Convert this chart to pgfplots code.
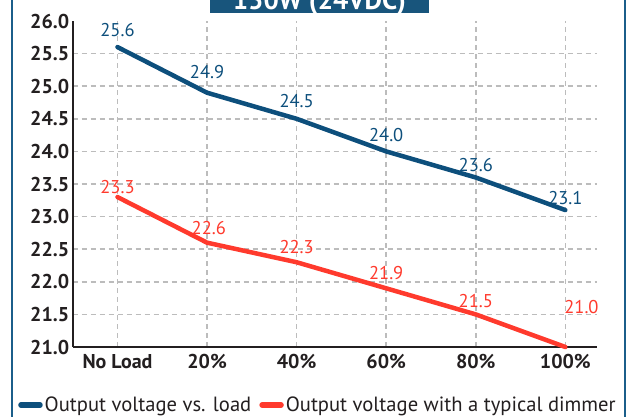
\documentclass[border=0pt]{standalone}
\usepackage{pgfplots}
\pgfplotsset{compat=1.18}
\usepackage{fontspec}
\setmainfont{PT Sans}
\definecolor{cblue}{HTML}{0D4F7C}
\definecolor{cred}{HTML}{FF3A2D}
\definecolor{cframe}{HTML}{1B5E8A}
\definecolor{cgrid}{HTML}{BCBCBC}
\definecolor{cax}{HTML}{231F20}
\begin{document}
\begin{tikzpicture}
\useasboundingbox (0bp,0bp) rectangle (631bp,417bp);
\clip (0bp,0bp) rectangle (631bp,417bp);
\begin{axis}[
  at={(72.7bp,70bp)}, anchor=south west,
  scale only axis, width=524bp, height=326bp,
  xmin=-0.5, xmax=5.35, ymin=21, ymax=26,
  clip=false,
  axis lines*=left,
  axis line style={cax, line width=2bp},
  major tick length=0pt,
  xtick={0,1,2,3,4,5},
  xticklabels={No Load,20\%,40\%,60\%,80\%,100\%},
  ytick={21,21.5,22,22.5,23,23.5,24,24.5,25,25.5},
  yticklabels={21.0,21.5,22.0,22.5,23.0,23.5,24.0,24.5,25.0,25.5},
  extra y ticks={26}, extra y tick labels={26.0},
  extra y tick style={grid=none},
  grid=major,
  major grid style={cgrid, line width=1.6bp, dash pattern=on 5bp off 4bp},
  tick label style={font=\fontsize{20bp}{22bp}\selectfont\bfseries, text=cax},
  yticklabel style={xshift=0bp},
  xticklabel style={yshift=-4bp},
  legend columns=2,
  legend style={at={(-0.11,-0.178)}, anchor=west, draw=none, fill=none,
    font=\fontsize{20.6bp}{22bp}\selectfont, text=cax,
    /tikz/every even column/.append style={column sep=6bp}},
  legend image code/.code={\draw[#1, line width=5.5bp, line cap=round] (0bp,0bp) -- (19bp,0bp);},
]
\addplot[cblue, line width=4.5bp, line cap=round, line join=round] coordinates {(0,25.6) (1,24.9) (2,24.5) (3,24.0) (4,23.6) (5,23.1)};
\addlegendentry{Output voltage vs. load}
\addplot[cred, line width=4.5bp, line cap=round, line join=round] coordinates {(0,23.3) (1,22.6) (2,22.3) (3,21.9) (4,21.5) (5,21.0)};
\addlegendentry{Output voltage with a typical dimmer}
\addplot[draw=none, mark=none, forget plot, nodes near coords, point meta=explicit symbolic,
  nodes near coords style={anchor=center, text=cblue, font=\fontsize{18.5bp}{20bp}\selectfont}]
  table[meta=label] {
x y label
0 25.855 25.6
1 25.21 24.9
2 24.77 24.5
3 24.25 24.0
4 23.79 23.6
5 23.28 23.1
};
\addplot[draw=none, mark=none, forget plot, nodes near coords, point meta=explicit symbolic,
  nodes near coords style={anchor=center, text=cred, font=\fontsize{18.5bp}{20bp}\selectfont}]
  table[meta=label] {
x y label
0 23.45 23.3
1.02 22.82 22.6
2 22.53 22.3
3 22.13 21.9
4 21.70 21.5
5.18 21.61 21.0
};
\end{axis}
\fill[cframe!90!black] (210bp,404bp) rectangle (429bp,440bp);
\node[anchor=base, text=white, font=\fontsize{27bp}{30bp}\selectfont\bfseries] at (319.5bp,407bp) {150W (24VDC)};
\draw[cframe, line width=2.5bp] (12bp,-5bp) -- (12bp,425bp);
\draw[cframe, line width=2.5bp] (625bp,-5bp) -- (625bp,425bp);
\end{tikzpicture}
\end{document}
